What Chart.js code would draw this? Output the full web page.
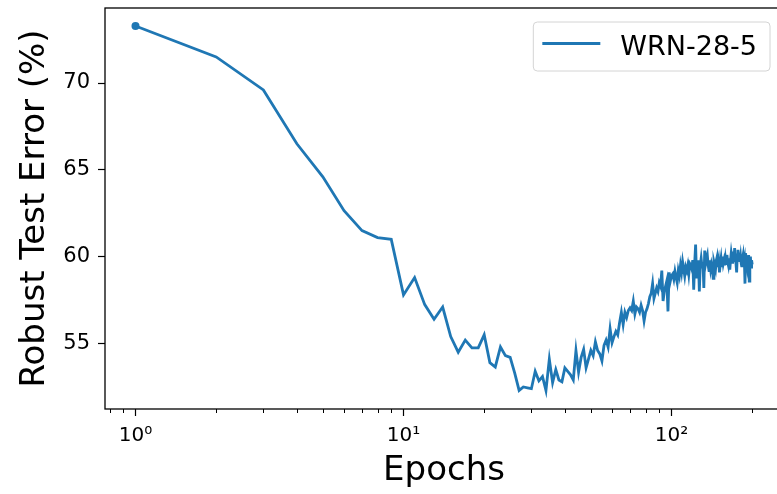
<!DOCTYPE html>
<html>
<head>
<meta charset="utf-8">
<script src="https://cdn.jsdelivr.net/npm/chart.js@4.4.1/dist/chart.umd.min.js"></script>
<style>
  html, body { margin: 0; padding: 0; background: #fff; overflow: hidden; }
  #wrap { width: 790px; height: 494px; }
</style>
</head>
<body>
<div id="wrap"><canvas id="chart" width="790" height="494"></canvas></div>
<script>
// --- dados ---
const seriesLabel = 'WRN-28-5';

// erro robusto (%) por época, 1..200
const robustError = [
  73.28, 71.5, 69.6, 66.5, 64.6, 62.65, 61.5, 61.1, 61.0, 57.8,
  58.8, 57.24, 56.4, 57.1, 55.4, 54.5, 55.2, 54.75, 54.75, 55.5,
  53.9, 53.65, 54.8, 54.3, 54.2, 53.3, 52.3, 52.5, 52.45, 52.4,
  53.4, 52.85, 53.1, 52.3, 54.1, 52.75, 53.5, 52.9, 52.8, 53.6,
  53.4, 53.2, 52.9, 54.6, 53.35, 54.2, 54.66, 53.6, 54.1, 54.6,
  54.3, 55.1, 54.6, 54.4, 54.0, 54.9, 55.2, 54.8, 55.85, 55.05,
  55.4, 55.7, 55.5, 56.2, 56.8, 56.1, 56.8, 56.5, 56.9, 57.05,
  56.9, 57.44, 56.7, 57.1, 57.0, 56.8, 57.2, 56.9, 56.3, 56.8,
  57.0, 57.3, 57.7, 57.9, 58.45, 57.6, 57.9, 58.2, 58.0, 58.5,
  58.3, 59.2, 57.45, 58.0, 58.3, 58.6, 56.85, 59.1, 58.6, 58.9,
  59.0, 58.7, 59.15, 58.8, 58.5, 59.2, 58.9, 59.5, 59.1, 59.7,
  59.3, 58.9, 59.4, 59.2, 59.5, 59.0, 59.6, 59.5, 59.3, 59.8,
  58.1, 59.6, 60.7, 58.75, 59.4, 59.8, 58.0, 59.5, 59.9, 59.4,
  59.7, 58.2, 60.35, 59.6, 59.9, 60.1, 59.5, 59.2, 59.8, 59.3,
  59.6, 59.4, 58.75, 59.7, 59.5, 59.3, 59.8, 60.0, 59.4, 59.7,
  59.1, 59.6, 59.9, 59.4, 60.0, 59.6, 59.8, 59.5, 59.9, 59.6,
  60.1, 59.7, 59.5, 59.9, 59.25, 59.8, 60.2, 59.9, 59.6, 60.3,
  59.7, 60.5, 59.9, 59.6, 59.1, 60.1, 60.4, 59.8, 60.2, 59.7,
  60.0, 59.6, 59.4, 59.9, 60.1, 59.6, 59.8, 58.45, 60.2, 59.7,
  59.9, 59.5, 59.8, 60.1, 58.6, 59.7, 60.0, 59.4, 59.8, 59.55
];
const epochs = robustError.map((_, i) => i + 1);

const xMajorTicks = [1, 10, 100];
const xTickLabels = ['10\u2070', '10\u00B9', '10\u00B2'];
const xMinorTicks = [0.8, 0.9, 2, 3, 4, 5, 6, 7, 8, 9, 20, 30, 40, 50, 60, 70, 80, 90, 200];
const yTicks = [55, 60, 65, 70];

const lineColor = '#1f77b4';
const fontFamily = "'DejaVu Sans', sans-serif";

// moldura (4 lados), ticks menores do eixo x e legenda estilo matplotlib
const frameAndLegend = {
  id: 'frameAndLegend',
  afterDraw(chart) {
    const { ctx, chartArea: a, scales } = chart;
    ctx.save();

    ctx.strokeStyle = '#000';
    ctx.lineWidth = 1;
    xMinorTicks.forEach(v => {
      const px = Math.round(scales.x.getPixelForValue(v)) + 0.5;
      ctx.beginPath();
      ctx.moveTo(px, a.bottom);
      ctx.lineTo(px, a.bottom + 4);
      ctx.stroke();
    });

    ctx.lineWidth = 1.3;
    ctx.strokeRect(a.left, a.top, a.right - a.left, a.bottom - a.top);

    // legenda
    const ds = chart.data.datasets[0];
    ctx.font = `27px ${fontFamily}`;
    const textW = ctx.measureText(ds.label).width;
    const boxRight = 770, boxTop = 22, boxBottom = 71;
    const textX = boxRight - 13 - textW;
    const handleEnd = textX - 20, handleStart = handleEnd - 58;
    const boxLeft = handleStart - 9;
    const r = 4;
    ctx.beginPath();
    ctx.moveTo(boxLeft + r, boxTop);
    ctx.arcTo(boxRight, boxTop, boxRight, boxBottom, r);
    ctx.arcTo(boxRight, boxBottom, boxLeft, boxBottom, r);
    ctx.arcTo(boxLeft, boxBottom, boxLeft, boxTop, r);
    ctx.arcTo(boxLeft, boxTop, boxRight, boxTop, r);
    ctx.closePath();
    ctx.fillStyle = 'rgba(255,255,255,0.8)';
    ctx.fill();
    ctx.strokeStyle = '#d4d4d4';
    ctx.lineWidth = 1;
    ctx.stroke();

    ctx.strokeStyle = ds.borderColor;
    ctx.lineWidth = ds.borderWidth;
    ctx.beginPath();
    ctx.moveTo(handleStart, 43.5);
    ctx.lineTo(handleEnd, 43.5);
    ctx.stroke();

    ctx.fillStyle = '#000';
    ctx.textBaseline = 'alphabetic';
    ctx.fillText(ds.label, textX, 55);
    ctx.restore();
  }
};

new Chart(document.getElementById('chart'), {
  type: 'line',
  data: {
    datasets: [{
      label: seriesLabel,
      data: epochs.map((e, i) => ({ x: e, y: robustError[i] })),
      borderColor: lineColor,
      backgroundColor: lineColor,
      borderWidth: 2.8,
      tension: 0,
      fill: false,
      pointRadius: (c) => c.dataIndex === 0 ? 4 : 0,
      pointHoverRadius: 0,
      pointBorderWidth: 0
    }]
  },
  options: {
    responsive: false,
    animation: false,
    layout: { padding: { top: 8, right: 7, left: 0, bottom: 0 } },
    plugins: { legend: { display: false }, tooltip: { enabled: false } },
    scales: {
      x: {
        type: 'logarithmic',
        min: 0.7694,
        max: 260.6,
        afterBuildTicks: (s) => { s.ticks = xMajorTicks.map(v => ({ value: v, major: true })); },
        afterFit: (s) => { s.height = 85; s.paddingLeft = 0; s.paddingRight = 0; },
        ticks: {
          autoSkip: false, maxRotation: 0, color: '#000', padding: 8,
          font: { family: fontFamily, size: 20 },
          callback: (v, i) => xTickLabels[i]
        },
        grid: { display: true, drawOnChartArea: false, tickLength: 7, tickColor: '#000', tickWidth: 1.2 },
        border: { display: false },
        title: {
          display: true, text: 'Epochs', color: '#000',
          font: { family: fontFamily, size: 34 },
          padding: { top: 0, bottom: 2 }
        }
      },
      y: {
        min: 51.23,
        max: 74.32,
        afterBuildTicks: (s) => { s.ticks = yTicks.map(v => ({ value: v })); },
        afterFit: (s) => { s.width = 105; s.paddingTop = 0; s.paddingBottom = 0; },
        ticks: {
          color: '#000', padding: 8,
          font: { family: fontFamily, size: 21 },
          callback: (v) => String(v)
        },
        grid: { display: true, drawOnChartArea: false, tickLength: 7, tickColor: '#000', tickWidth: 1.2 },
        border: { display: false },
        title: {
          display: true, text: 'Robust Test Error (%)', color: '#000',
          font: { family: fontFamily, size: 34 },
          padding: { top: 15, bottom: 0 }
        }
      }
    }
  },
  plugins: [frameAndLegend]
});
</script>
</body>
</html>
